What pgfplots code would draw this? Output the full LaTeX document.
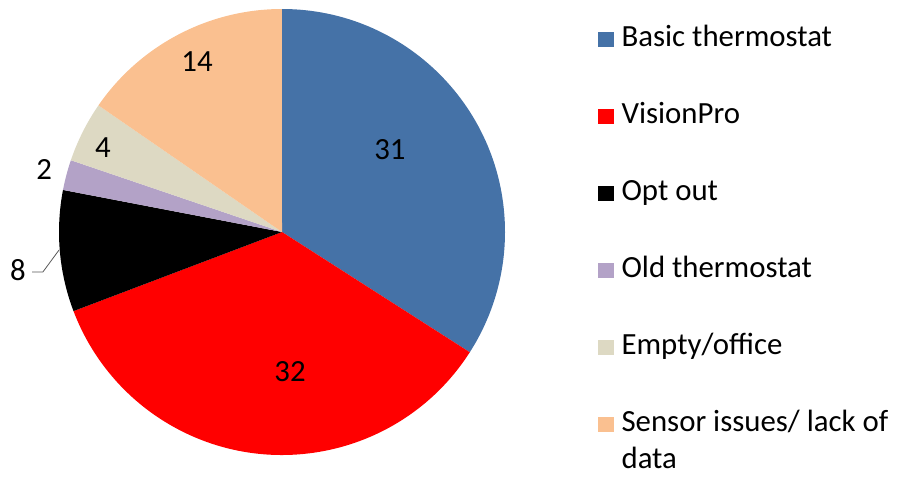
\documentclass[border=0pt]{standalone}
\usepackage{fontspec}
\setmainfont{Carlito}
\usepackage{pgfplots}
\usepackage{pgfplotstable}
\pgfplotsset{compat=1.18}

\definecolor{cBasic}{HTML}{4572A7}
\definecolor{cVision}{HTML}{FF0000}
\definecolor{cOpt}{HTML}{000000}
\definecolor{cOld}{HTML}{B3A2C7}
\definecolor{cEmpty}{HTML}{DDD9C3}
\definecolor{cSensor}{HTML}{FAC090}

% value, slice colour, label position (axis units, radius = 1)
\pgfplotstableread[col sep=comma]{
value,color,lx,ly
31,cBasic,0.484,0.368
32,cVision,0.036,-0.628
8,cOpt,-1.184,-0.170
2,cOld,-1.067,0.278
4,cEmpty,-0.803,0.377
14,cSensor,-0.381,0.762
}\piedata

\def\rad{111.5pt}

\begin{document}
\fontsize{15.4}{18.5}\selectfont
\begin{tikzpicture}
\path[use as bounding box] (0,0) rectangle (450pt,238.5pt);
\begin{axis}[
    at={(141pt,122.5pt)}, anchor=center,
    scale only axis, width=223pt, height=223pt,
    xmin=-1, xmax=1, ymin=-1, ymax=1,
    hide axis, clip=false,
    legend cell align=left,
    legend image code/.code={\fill[#1] (0pt,-3.6pt) rectangle (7.2pt,3.6pt);},
    legend style={
        at={(1.2085,0.964)}, anchor=north west,
        draw=none, fill=none, inner sep=0pt,
        row sep=24.5pt, column sep=4pt,
        nodes={inner sep=0pt, text height=10.5pt, text depth=3.5pt},
    },
]
\pgfplotstablegetrowsof{\piedata}
\pgfmathtruncatemacro\nrows{\pgfplotsretval-1}
\def\total{0}
\pgfplotsforeachungrouped \i in {0,...,\nrows}{%
    \pgfplotstablegetelem{\i}{value}\of\piedata
    \pgfmathsetmacro\total{\total+\pgfplotsretval}%
}
\def\angA{90}
\pgfplotsforeachungrouped \i in {0,...,\nrows}{%
    \pgfplotstablegetelem{\i}{value}\of\piedata \let\v\pgfplotsretval
    \pgfplotstablegetelem{\i}{color}\of\piedata \let\c\pgfplotsretval
    \pgfplotstablegetelem{\i}{lx}\of\piedata \let\lx\pgfplotsretval
    \pgfplotstablegetelem{\i}{ly}\of\piedata \let\ly\pgfplotsretval
    \pgfmathsetmacro\angB{\angA-\v/\total*360}%
    \edef\temp{\noexpand\fill[\c] (axis cs:0,0) -- ++(\angA:\rad)
        arc[start angle=\angA, end angle=\angB, radius=\rad] -- cycle;
        \noexpand\node at (axis cs:\lx,\ly) {\v};}%
    \temp
    \let\angA\angB
}
% leader line for the small "8" label
\draw[black!65, thin] (axis cs:-1.121,-0.179) -- (axis cs:-1.072,-0.179) -- (axis cs:-1.0,-0.081);

\addlegendimage{cBasic}\addlegendentry{Basic thermostat}
\addlegendimage{cVision}\addlegendentry{VisionPro}
\addlegendimage{cOpt}\addlegendentry{Opt out}
\addlegendimage{cOld}\addlegendentry{Old thermostat}
\addlegendimage{cEmpty}\addlegendentry{Empty/office}
\addlegendimage{cSensor}\addlegendentry{\begin{tabular}[t]{@{}l@{}}Sensor issues/ lack of\\data\end{tabular}}
\end{axis}
\end{tikzpicture}
\end{document}
